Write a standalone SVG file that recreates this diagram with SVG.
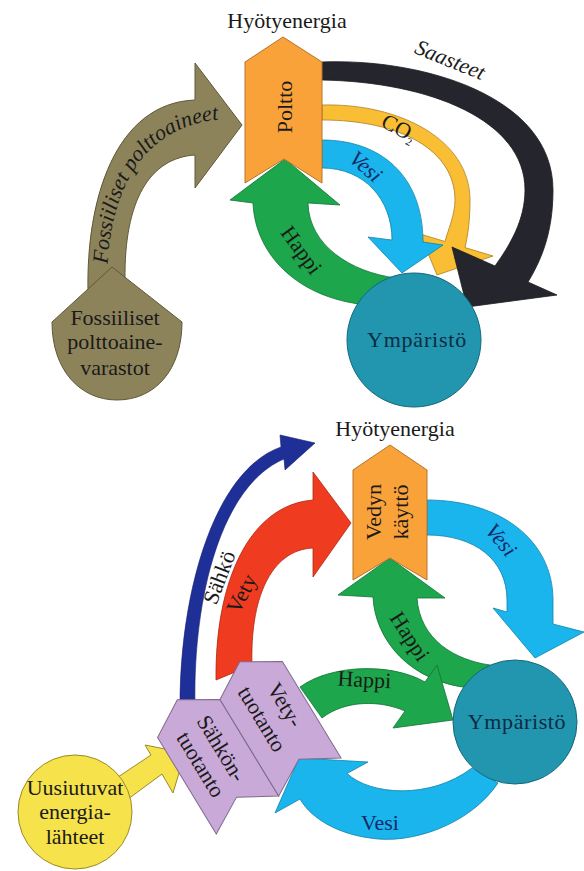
<svg xmlns="http://www.w3.org/2000/svg" width="584" height="871" viewBox="0 0 584 871">
<style>
.t{font-family:"Liberation Serif","Times New Roman",serif;fill:#1a1a1a;font-size:22px}
.it{font-style:italic}
.nv{fill:#13296a}
.cn{fill:#0d2a45}
.orange{fill:#F9A23A;stroke:#B5742A;stroke-width:1}
.green{fill:#1DA64B;stroke:#127236;stroke-width:0.8}
.lblue{fill:#19B5EC;stroke:#1381A8;stroke-width:0.8}
.gold{fill:#F9BE34;stroke:#A98020;stroke-width:0.8}
.dark{fill:#25262D;stroke:#1a1a1f;stroke-width:0.8}
.olive{fill:#8D835B;stroke:#5f5838;stroke-width:1}
.teal{fill:#2196AE;stroke:#16677a;stroke-width:1}
.red{fill:#EF3B1F;stroke:#B02A15;stroke-width:0.8}
.dblue{fill:#1E2F97;stroke:#15206a;stroke-width:0.6}
.lav{fill:#C9A9D7;stroke:#7f6a8c;stroke-width:1}
.yel{fill:#F6E24A;stroke:#9b8a28;stroke-width:1}
</style>
<defs>
<path id="fp" d="M107,292 C105,195 140,122 228,119"/>
<path id="chev" d="M0,-67.5 L36.5,-45.5 L36.5,67.5 L0,46.5 L-36.5,67.5 L-36.5,-45.5 Z"/>
</defs>

<g id="connectors">
  <!-- top: fossil fuels -->
  <path class="olive" d="M88,292 C86,200 115,103 195,100 L195,63 L242,125 L195,188 L195,155 C150,158 124,200 125,280 Z"/>
  <text class="t it" font-size="17.5"><textPath href="#fp" startOffset="28">Fossiiliset polttoaineet</textPath></text>
  <!-- Happi top -->
  <path class="green" d="M253,203 C255,255 300,305 385,306 L396,278 C350,272 309,245 308,203 L340,205 L285,159 L230,200 Z"/>
  <text class="t" transform="translate(295.6,254.4) rotate(54)" text-anchor="middle">Happi</text>
  <!-- CO2 -->
  <path class="gold" d="M322,105 C400,103 470,140 470,200 C470,220 468,235 465,247.6 L493,256 L437,275 L420,234 L445,241.5 C448,230 455,215 455,200 C455,150 400,120 322,120 Z"/>
  <text class="t" font-size="16" transform="translate(395.6,134.4) rotate(28)" text-anchor="middle">CO<tspan dy="4" font-size="11">2</tspan></text>
  <!-- Saasteet -->
  <path class="dark" d="M322,62 C420,58 553,95 553,190 C553,235 540,262 528,282 L557,295 L467,307 L452,247 L495,266 C510,245 525,220 525,190 C525,120 430,82 322,80 Z"/>
  <text class="t it" font-size="23" transform="translate(447.4,66.5) rotate(22)" text-anchor="middle">Saasteet</text>
  <!-- Vesi top -->
  <path class="lblue" d="M322,140 C380,140 423,175 423,242 L443,245 L402,273 L368,237 L392,240 C392,200 365,168 322,168 Z"/>
  <text class="t it nv" font-size="23" transform="translate(361,172) rotate(41)" text-anchor="middle">Vesi</text>

  <!-- bottom: Sähkö -->
  <path class="dblue" d="M180,705 C180,590 215,470 281,447 L280,435 L315,443 L285,470 L284,459 C222,485 193,595 195,705 Z"/>
  <text class="t" font-size="19" transform="translate(226,580) rotate(-69)" text-anchor="middle">Sähkö</text>
  <!-- Vety -->
  <path class="red" d="M216,680 C215,580 250,505 313,500 L313,472 L351,523 L313,577 L313,548 C270,550 250,600 252,665 Z"/>
  <text class="t" transform="translate(248,597) rotate(-63)" text-anchor="middle">Vety</text>
  <!-- Uusiutuvat arrow -->
  <path class="yel" d="M112,781 L151,755 L145,745 L185,753 L173,793 L162,774 L124,802 Z"/>
  <!-- Happi upper -->
  <path class="green" d="M373,597 C375,640 410,682 470,688 L490,665 C455,660 420,640 417,598 L445,598 L390,558 L338,595 Z"/>
  <text class="t" font-size="23" transform="translate(403.7,640.4) rotate(57)" text-anchor="middle">Happi</text>
  <!-- Vesi top-right -->
  <path class="lblue" d="M427,500 C500,500 553,540 553,600 L553,624 L584,632 L535,658 L493,608 L507,612 L507,600 C507,560 475,535 427,535 Z"/>
  <text class="t it nv" font-size="23" transform="translate(495.6,544.5) rotate(50)" text-anchor="middle">Vesi</text>
  <!-- Happi lower -->
  <path class="green" d="M300,687 C330,665 390,662 425,682 L437,665 L453,720 L393,728 L405,711 C380,700 345,700 322,718 Z"/>
  <text class="t" transform="translate(364,687) rotate(3)" text-anchor="middle">Happi</text>
  <!-- Vesi lower -->
  <path class="lblue" d="M498,783 C470,825 410,845 370,838 C340,834 312,820 300,799 L275,813 L299,758 L368,762 L347,773.5 C370,795 430,800 472,768 Z"/>
  <text class="t nv" font-size="23" transform="translate(380,830)" text-anchor="middle">Vesi</text>
</g>

<g id="label-hyotyenergia-1"><text class="t" font-size="21" x="287" y="28" text-anchor="middle">Hyötyenergia</text></g>
<g id="label-hyotyenergia-2"><text class="t" font-size="21" x="395" y="436" text-anchor="middle">Hyötyenergia</text></g>

<g id="fossiiliset-varastot">
  <path class="olive" d="M112,267 L182,322 C182,370 155,400 117,400 C80,400 52,370 52,322 Z"/>
  <text class="t" font-size="20" text-anchor="middle"><tspan x="115" y="325">Fossiiliset</tspan><tspan x="115" y="349">polttoaine-</tspan><tspan x="115" y="375">varastot</tspan></text>
</g>

<g id="ymparisto-1">
  <circle class="teal" cx="414" cy="340" r="67"/>
  <text class="t cn" x="417" y="347" text-anchor="middle" letter-spacing="0.8">Ympäristö</text>
</g>

<g id="poltto">
  <path class="orange" d="M283,37 L322,62 L322,183 L284,159 L245,183 L245,62 Z"/>
  <text class="t" font-size="26" transform="translate(292,107) rotate(-90)" text-anchor="middle">Poltto</text>
</g>

<g id="ymparisto-2">
  <circle class="teal" cx="515" cy="722" r="62"/>
  <text class="t cn" x="517" y="729" text-anchor="middle" letter-spacing="0.6">Ympäristö</text>
</g>

<g id="sahkontuotanto" transform="translate(212.4,757.4) rotate(-31.3)">
  <use href="#chev" class="lav"/>
  <g transform="rotate(90)">
    <text class="t" font-size="21" x="-3" y="-5" text-anchor="middle">Sähkön-</text>
    <text class="t" font-size="21" x="0" y="21" text-anchor="middle">tuotanto</text>
  </g>
</g>

<g id="vetytuotanto" transform="translate(274.8,719.4) rotate(-31.3)">
  <use href="#chev" class="lav"/>
  <g transform="rotate(90)">
    <text class="t" font-size="21" x="-7" y="-9" text-anchor="middle">Vety-</text>
    <text class="t" font-size="21" x="-7" y="18" text-anchor="middle">tuotanto</text>
  </g>
</g>

<g id="vedyn-kaytto">
  <path class="orange" d="M390,445 L427,470 L427,580 L390,558 L353,580 L353,470 Z"/>
  <text class="t" transform="translate(381,512) rotate(-90)" text-anchor="middle">Vedyn</text>
  <text class="t" transform="translate(408,512) rotate(-90)" text-anchor="middle">käyttö</text>
</g>

<g id="uusiutuvat">
  <circle class="yel" cx="75" cy="812" r="57"/>
  <text class="t" font-size="20" text-anchor="middle"><tspan x="75" y="795">Uusiutuvat</tspan><tspan x="75" y="819">energia-</tspan><tspan x="75" y="844">lähteet</tspan></text>
</g>
</svg>
